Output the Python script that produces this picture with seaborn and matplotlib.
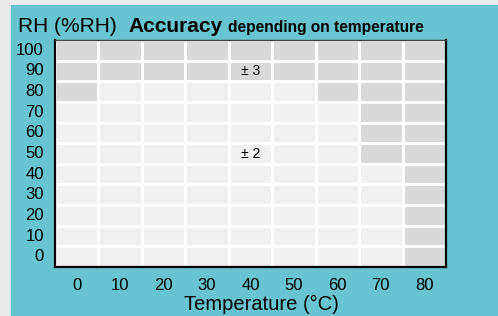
import numpy as np
import pandas as pd
import seaborn as sns
import matplotlib.pyplot as plt
from matplotlib.colors import ListedColormap
from matplotlib.patches import Rectangle

temperatures = [0, 10, 20, 30, 40, 50, 60, 70, 80]
humidity = [100, 90, 80, 70, 60, 50, 40, 30, 20, 10, 0]

# accuracy band (+/- %RH) for every humidity row, top row first
accuracy = [
    [3, 3, 3, 3, 3, 3, 3, 3, 3],
    [3, 3, 3, 3, 3, 3, 3, 3, 3],
    [3, 2, 2, 2, 2, 2, 3, 3, 3],
    [2, 2, 2, 2, 2, 2, 2, 3, 3],
    [2, 2, 2, 2, 2, 2, 2, 3, 3],
    [2, 2, 2, 2, 2, 2, 2, 3, 3],
    [2, 2, 2, 2, 2, 2, 2, 2, 3],
    [2, 2, 2, 2, 2, 2, 2, 2, 3],
    [2, 2, 2, 2, 2, 2, 2, 2, 3],
    [2, 2, 2, 2, 2, 2, 2, 2, 3],
    [2, 2, 2, 2, 2, 2, 2, 2, 3],
]

# where the band value is written inside the grid
label_cells = {(90, 40): "± 3", (50, 40): "± 2"}

df = pd.DataFrame(accuracy, index=humidity, columns=temperatures)
annot = pd.DataFrame("", index=humidity, columns=temperatures)
for (rh, t), txt in label_cells.items():
    annot.loc[rh, t] = txt

plt.rcParams['font.family'] = ['Liberation Sans', 'DejaVu Sans']

fig = plt.figure(figsize=(4.98, 3.16), dpi=100, facecolor='#ebebeb')
fig.patches.append(Rectangle((11 / 498, 0), 1, 1 - 5 / 316,
                             transform=fig.transFigure, facecolor='#67c4d0',
                             edgecolor='none', zorder=-5))

ax = fig.add_axes([55 / 498, 1 - 267 / 316, 391 / 498, 227 / 316])
ax.set_zorder(2)
sns.heatmap(df, ax=ax, cmap=ListedColormap(['#f0f0f0', '#d9d9d9']),
            vmin=2, vmax=3, cbar=False, linewidths=2, linecolor='white',
            annot=annot, fmt='', annot_kws={'fontsize': 10, 'color': 'black'})

for side, sp in ax.spines.items():
    sp.set_visible(True)
    sp.set_color('black' if side != 'top' else '#444444')
    sp.set_linewidth(1.6 if side != 'top' else 1.0)

ax.tick_params(length=0, labelsize=12, pad=8)
ax.set_yticklabels([str(h) for h in humidity], rotation=0)
ax.set_xticklabels([str(t) for t in temperatures], rotation=0)
ax.set_ylabel('')
ax.set_xlabel('Temperature (°C)', fontsize=14.5)
ax.xaxis.set_label_coords((261 - 55) / 391, -0.125)

fig.text(18 / 498, 1 - 32 / 316, 'RH (%RH)', fontsize=15, va='baseline')
fig.text(128 / 498, 1 - 32 / 316, 'Accuracy', fontsize=15,
         fontweight='bold', va='baseline')
fig.text(228 / 498, 1 - 32 / 316, 'depending on temperature', fontsize=11.2,
         fontweight='bold', va='baseline')

fig.savefig('out.png', dpi=100, facecolor=fig.get_facecolor())
